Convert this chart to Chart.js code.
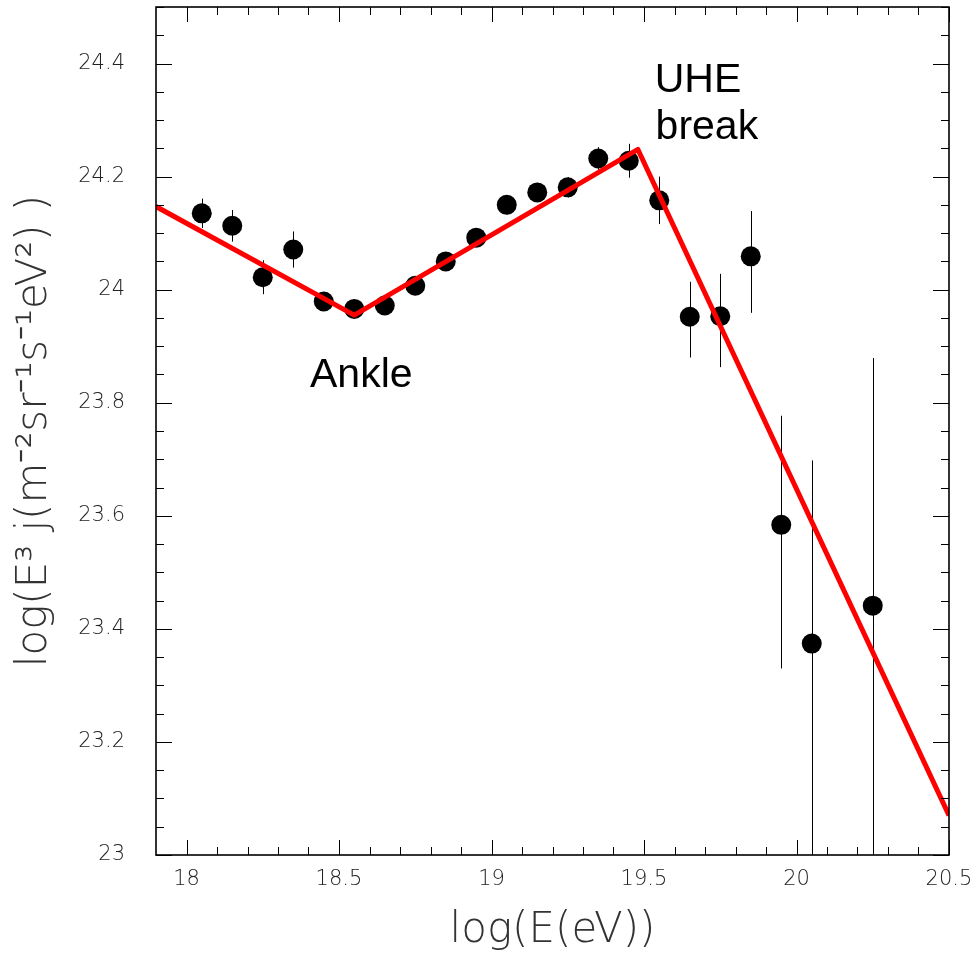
<!DOCTYPE html>
<html>
<head>
<meta charset="utf-8">
<script src="https://cdn.jsdelivr.net/npm/chart.js@4.4.0/dist/chart.umd.min.js"></script>
<style>
  html, body { margin: 0; padding: 0; background: #fff; }
</style>
</head>
<body>
<canvas id="spectrum" width="978" height="964"></canvas>
<script>
// measured spectrum, log(E) bins
var energy  = [18.05, 18.15, 18.25, 18.35, 18.45, 18.55, 18.65, 18.75, 18.85, 18.95, 19.05, 19.15, 19.25, 19.35, 19.45, 19.55, 19.65, 19.75, 19.85, 19.95, 20.05, 20.25];
var flux    = [24.135, 24.113, 24.022, 24.071, 23.979, 23.966, 23.972, 24.007, 24.050, 24.092, 24.150, 24.172, 24.181, 24.232, 24.228, 24.158, 23.952, 23.953, 24.059, 23.584, 23.374, 23.441];
var errUp   = [0.026, 0.028, 0.030, 0.032, 0.015, 0.015, 0.015, 0.015, 0.016, 0.016, 0.017, 0.017, 0.018, 0.020, 0.030, 0.042, 0.062, 0.075, 0.080, 0.193, 0.324, 0.438];
var errDown = [0.026, 0.028, 0.030, 0.032, 0.015, 0.015, 0.015, 0.015, 0.016, 0.016, 0.017, 0.017, 0.018, 0.020, 0.030, 0.042, 0.072, 0.090, 0.100, 0.254, 0.450, 0.450];

// broken power law fit
var fitEnergy = [17.9, 18.55, 19.48, 20.5];
var fitFlux   = [24.147, 23.955, 24.248, 23.07];

var xTickLabels = [18, 18.5, 19, 19.5, 20, 20.5];
var yTickLabels = [23, 23.2, 23.4, 23.6, 23.8, 24, 24.2, 24.4];

var points = [];
for (var i = 0; i < energy.length; i++) {
  points.push({x: energy[i], y: flux[i]});
}
var fitPoints = [];
for (var j = 0; j < fitEnergy.length; j++) {
  fitPoints.push({x: fitEnergy[j], y: fitFlux[j]});
}

var errorBars = {
  id: 'errorBars',
  beforeDatasetsDraw: function(chart) {
    var ctx = chart.ctx, a = chart.chartArea;
    var xs = chart.scales.x, ys = chart.scales.y;
    ctx.save();
    ctx.beginPath();
    ctx.rect(a.left, a.top, a.right - a.left, a.bottom - a.top);
    ctx.clip();
    ctx.strokeStyle = '#000';
    ctx.lineWidth = 1;
    for (var i = 0; i < energy.length; i++) {
      var px = Math.round(xs.getPixelForValue(energy[i])) + 0.5;
      ctx.beginPath();
      ctx.moveTo(px, ys.getPixelForValue(flux[i] + errUp[i]));
      ctx.lineTo(px, ys.getPixelForValue(flux[i] - errDown[i]));
      ctx.stroke();
    }
    ctx.restore();
  }
};

var frameTicks = {
  id: 'frameTicks',
  afterDraw: function(chart) {
    var ctx = chart.ctx, a = chart.chartArea;
    var xs = chart.scales.x, ys = chart.scales.y;
    ctx.save();
    ctx.strokeStyle = '#000';
    ctx.lineWidth = 1;
    ctx.beginPath();
    for (var k = 180; k <= 205; k++) {
      var px = Math.round(xs.getPixelForValue(k / 10)) + 0.5;
      var len = (k % 5 === 0) ? 15 : 8;
      ctx.moveTo(px, a.bottom); ctx.lineTo(px, a.bottom - len);
      ctx.moveTo(px, a.top); ctx.lineTo(px, a.top + len);
    }
    for (var m = 460; m <= 490; m++) {
      var py = Math.round(ys.getPixelForValue(m / 20)) + 0.5;
      var l2 = (m % 4 === 0) ? 16 : 8;
      ctx.moveTo(a.left, py); ctx.lineTo(a.left + l2, py);
      ctx.moveTo(a.right, py); ctx.lineTo(a.right - l2, py);
    }
    ctx.stroke();
    ctx.lineWidth = 1.6;
    ctx.strokeRect(a.left, a.top, a.right - a.left, a.bottom - a.top);

    // annotations
    ctx.fillStyle = '#000';
    ctx.font = '41px "Liberation Sans", Arial, sans-serif';
    ctx.textAlign = 'left';
    ctx.textBaseline = 'alphabetic';
    ctx.fillText('Ankle', xs.getPixelForValue(18.405), ys.getPixelForValue(23.828));
    ctx.fillText('UHE', xs.getPixelForValue(19.535), ys.getPixelForValue(24.349));
    ctx.fillText('break', xs.getPixelForValue(19.538), ys.getPixelForValue(24.267));
    ctx.restore();
  }
};

var tickFont = {family: '"DejaVu Sans", sans-serif', size: 21, weight: '200'};
var titleFont = {family: '"DejaVu Sans", sans-serif', size: 42, weight: '200'};

var ctx = document.getElementById('spectrum');
var chart = new Chart(ctx, {
  type: 'scatter',
  data: {
    datasets: [
      {
        label: 'fit',
        data: fitPoints,
        showLine: true,
        borderColor: '#ff0000',
        borderWidth: 5,
        borderJoinStyle: 'round',
        pointRadius: 0,
        order: 0
      },
      {
        label: 'data',
        data: points,
        pointRadius: 10,
        pointHoverRadius: 10,
        backgroundColor: '#000',
        borderWidth: 0,
        order: 1
      }
    ]
  },
  options: {
    responsive: false,
    animation: false,
    layout: { autoPadding: false, padding: { top: 7, right: 29, left: 0, bottom: 0 } },
    plugins: { legend: { display: false }, tooltip: { enabled: false } },
    scales: {
      x: {
        type: 'linear',
        min: 17.9,
        max: 20.5,
        grid: { display: false },
        border: { display: false },
        afterBuildTicks: function(scale) {
          scale.ticks = xTickLabels.map(function(v) { return {value: v}; });
        },
        afterFit: function(scale) { scale.height = 109; },
        ticks: {
          color: '#222',
          font: tickFont,
          padding: 4,
          maxRotation: 0,
          autoSkip: false,
          callback: function(v) { return String(v); }
        },
        title: {
          display: true,
          text: 'log(E(eV))',
          color: '#333',
          font: titleFont,
          padding: { bottom: 8 }
        }
      },
      y: {
        type: 'linear',
        min: 23,
        max: 24.5,
        grid: { display: false },
        border: { display: false },
        afterBuildTicks: function(scale) {
          scale.ticks = yTickLabels.map(function(v) { return {value: v}; });
        },
        afterFit: function(scale) {
          scale.width = 156;
          scale.paddingTop = 0;
          scale.paddingBottom = 0;
        },
        ticks: {
          color: '#222',
          font: tickFont,
          padding: 23,
          autoSkip: false,
          callback: function(v) { return String(v); }
        },
        title: {
          display: true,
          text: 'log(E³ j(m⁻²sr⁻¹s⁻¹eV²) )',
          color: '#333',
          font: titleFont,
          padding: { top: 10 }
        }
      }
    }
  },
  plugins: [errorBars, frameTicks]
});
</script>
</body>
</html>
